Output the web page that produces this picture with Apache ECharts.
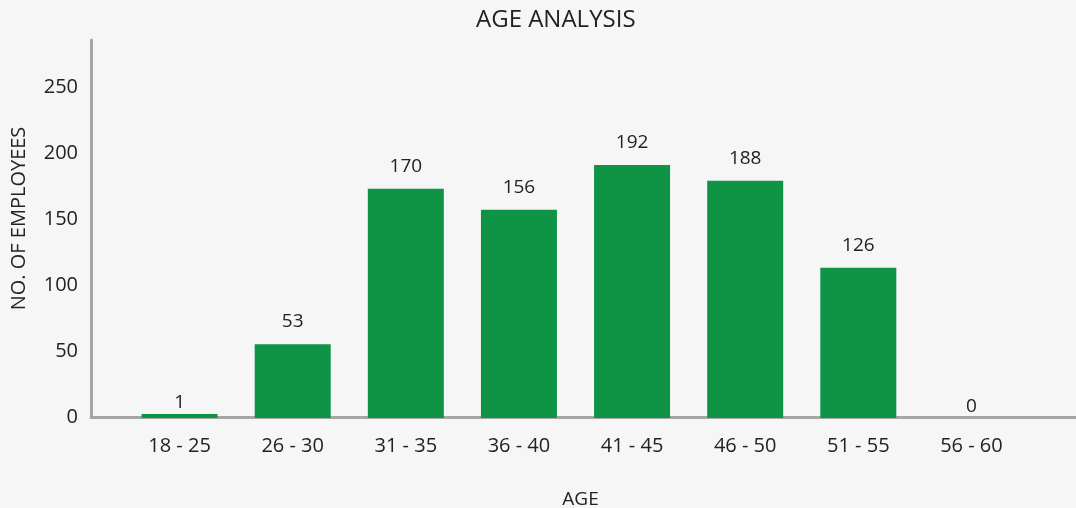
<!DOCTYPE html>
<html>
<head>
<meta charset="utf-8">
<script src="https://cdn.jsdelivr.net/npm/echarts@6/dist/echarts.min.js"></script>
<style>
  html, body { margin: 0; padding: 0; background: #f6f6f6; }
  #age_analysis { width: 1076px; height: 508px; }
</style>
</head>
<body>
<div id="age_analysis"></div>
<script>
// age bands
const ageBands = ["18 - 25", "26 - 30", "31 - 35", "36 - 40", "41 - 45", "46 - 50", "51 - 55", "56 - 60"];
// bar heights as drawn in the picture
const barValues = [3, 56, 174, 158, 192, 180, 114, 0];
// numbers printed above the bars
const labelValues = [1, 53, 170, 156, 192, 188, 126, 0];
const yTicks = [0, 50, 100, 150, 200, 250];

const chart = echarts.init(document.getElementById("age_analysis"));
const font = "Open Sans";
const textColor = "#222222";
const axisGray = "#a6a6a6";

const option = {
  backgroundColor: "#f6f6f6",
  animation: false,
  title: {
    text: "AGE ANALYSIS",
    left: 471,
    top: 3,
    textStyle: { fontFamily: font, fontSize: 24, fontWeight: "normal", color: textColor },
  },
  grid: [
    // frame with the axis lines
    { left: 91, right: 0, top: 40, bottom: 91, outerBoundsMode: "none" },
    // bars
    { left: 123, right: 48, top: 40, bottom: 90, outerBoundsMode: "none" },
  ],
  xAxis: [
    {
      type: "category",
      gridIndex: 0,
      data: [""],
      axisLine: { show: true, lineStyle: { color: axisGray, width: 3 } },
      axisTick: { show: false },
      axisLabel: { show: false },
      z: 0,
    },
    {
      type: "category",
      gridIndex: 1,
      data: ageBands,
      name: "AGE",
      nameLocation: "middle",
      nameGap: 72,
      nameTextStyle: { fontFamily: font, fontSize: 19, color: textColor, padding: [0, 0, 0, 10] },
      axisLine: { show: false },
      axisTick: { show: false },
      axisLabel: { fontFamily: font, fontSize: 20, color: textColor, margin: 18 },
    },
  ],
  yAxis: [
    {
      type: "value",
      gridIndex: 0,
      min: 0,
      max: 286,
      interval: 50,
      name: "NO. OF EMPLOYEES",
      nameLocation: "middle",
      nameGap: 62,
      nameTextStyle: { fontFamily: font, fontSize: 20, color: textColor, padding: [0, 0, 0, 20] },
      axisLine: { show: true, lineStyle: { color: axisGray, width: 3 } },
      axisTick: { show: false },
      splitLine: { show: false },
      axisLabel: {
        fontFamily: font,
        fontSize: 20,
        color: textColor,
        margin: 13,
        showMaxLabel: false,
        formatter: (v) => (yTicks.includes(v) ? String(v) : ""),
      },
    },
    {
      type: "value",
      gridIndex: 1,
      min: 0,
      max: 286.8,
      show: false,
    },
  ],
  series: [
    {
      type: "bar",
      xAxisIndex: 1,
      yAxisIndex: 1,
      data: barValues.map((v) => ({ value: v, label: { distance: v < 10 ? 2 : 13 } })),
      barWidth: 76,
      itemStyle: { color: "#0e9444" },
      label: {
        show: true,
        position: "top",
        fontFamily: font,
        fontSize: 19,
        color: textColor,
        formatter: (p) => String(labelValues[p.dataIndex]),
      },
      z: 3,
    },
  ],
};

chart.setOption(option);
</script>
</body>
</html>
